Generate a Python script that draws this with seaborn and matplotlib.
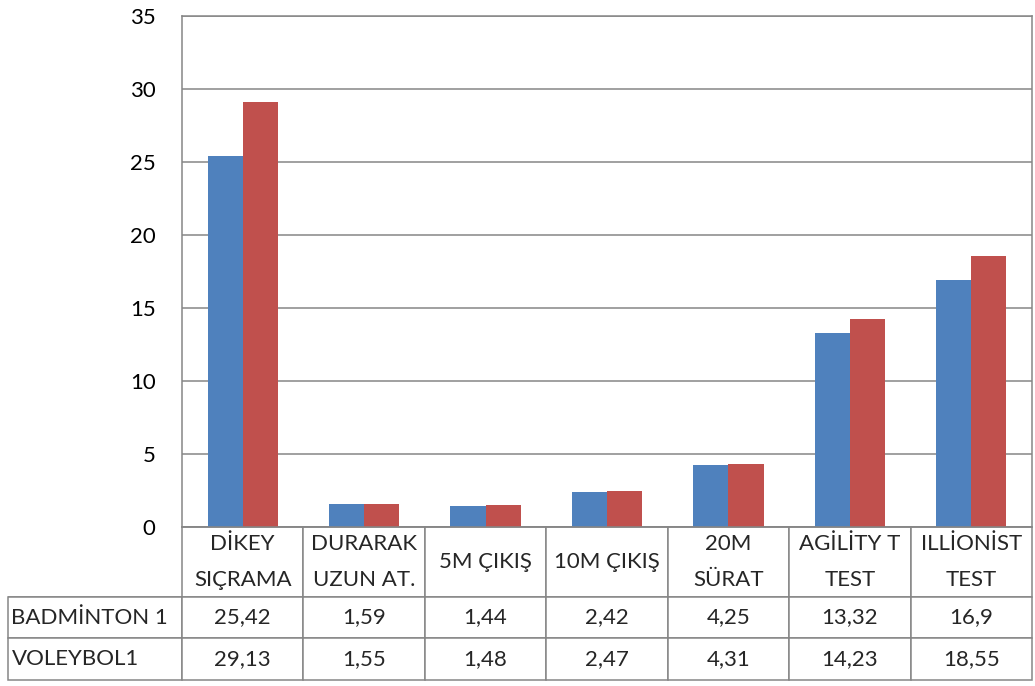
import matplotlib
matplotlib.use("Agg")
import matplotlib.pyplot as plt
import pandas as pd
import seaborn as sns

categories = ["DİKEY\nSIÇRAMA", "DURARAK\nUZUN AT.", "5M ÇIKIŞ", "10M ÇIKIŞ",
              "20M\nSÜRAT", "AGİLİTY T\nTEST", "ILLİONİST\nTEST"]
series_names = ["BADMİNTON 1", "VOLEYBOL1"]
badminton = [25.42, 1.59, 1.44, 2.42, 4.25, 13.32, 16.9]
voleybol = [29.13, 1.55, 1.48, 2.47, 4.31, 14.23, 18.55]
table_text = [
    ["25,42", "1,59", "1,44", "2,42", "4,25", "13,32", "16,9"],
    ["29,13", "1,55", "1,48", "2,47", "4,31", "14,23", "18,55"],
]
colors = ["#4F81BD", "#C0504D"]
grid_color = "#868686"
font_size = 16

df = pd.DataFrame({
    "test": categories * 2,
    "series": [series_names[0]] * 7 + [series_names[1]] * 7,
    "value": badminton + voleybol,
})

sns.set_theme(style="white")
plt.rcParams["font.family"] = ["Lato", "DejaVu Sans"]

fig = plt.figure(figsize=(10.35, 6.86), dpi=100)
ax = fig.add_axes([182 / 1035, 1 - 527 / 686, 850 / 1035, 511 / 686])

sns.barplot(data=df, x="test", y="value", hue="series", palette=colors,
            saturation=1, width=0.58, linewidth=0, legend=False, ax=ax)

ax.set_xlim(-0.5, 6.5)
ax.set_ylim(0, 35)
ax.set_yticks(range(0, 36, 5))
ax.set_xticks([])
ax.set_xlabel("")
ax.set_ylabel("")
ax.yaxis.grid(True, color=grid_color, linewidth=1.1)
ax.set_axisbelow(True)
ax.tick_params(axis="y", length=0, pad=19, labelsize=font_size, labelcolor="black")
for spine in ax.spines.values():
    spine.set_color(grid_color)
    spine.set_linewidth(1.1)

# data table under the axis
cell_text = [[""] + categories] + [[series_names[i]] + table_text[i] for i in range(2)]
col_widths = [174] + [850 / 7] * 7
tbl = ax.table(cellText=cell_text, colWidths=col_widths, cellLoc="center",
               bbox=[-174 / 850, -153 / 511, 1024 / 850, 153 / 511])
tbl.auto_set_font_size(False)
row_heights = [70, 41, 42]
for (r, c), cell in tbl.get_celld().items():
    cell.set_height(row_heights[r])
    cell.set_edgecolor(grid_color)
    cell.set_linewidth(1.1)
    cell.get_text().set_fontsize(font_size)
    cell.get_text().set_linespacing(2.0)
    if c == 0:
        cell.get_text().set_horizontalalignment("left")
        cell.PAD = 0.02
    if r == 0 and c == 0:
        cell.visible_edges = "B"

fig.savefig("out.png", dpi=100, facecolor="white")
